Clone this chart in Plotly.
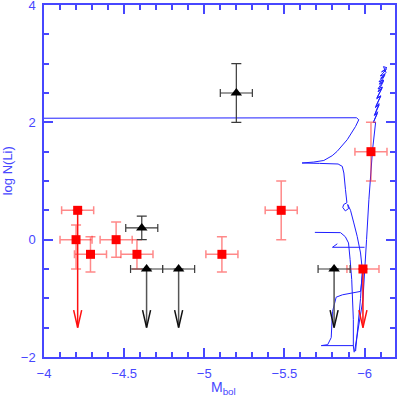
import plotly.graph_objects as go

# Red squares (with errors)
red_x = [-4.21, -4.20, -4.29, -4.45, -4.58, -5.11, -5.48, -5.99, -6.04]
red_y = [0.5, 0.0, -0.25, 0.0, -0.25, -0.25, 0.5, -0.5, 1.5]
red_ex = [0.1, 0.1, 0.1, 0.1, 0.1, 0.1, 0.1, 0.1, 0.1]
red_ey_up = [0.0, 0.25, 0.3, 0.3, 0.25, 0.3, 0.5, 0.0, 0.5]
red_ey_dn = [0.0, 0.5, 0.3, 0.3, 0.25, 0.3, 0.5, 0.0, 0.5]

# Black triangles
blk_x = [-5.20, -4.61, -4.64, -4.84, -5.81]
blk_y = [2.5, 0.2, -0.5, -0.5, -0.5]
blk_ex = [0.1, 0.1, 0.1, 0.1, 0.1]
blk_ey = [0.5, 0.2, 0.0, 0.0, 0.0]

# Upper limits (arrows)
red_lim_x = [-4.21, -5.99]
red_lim_y = [0.5, -0.5]
blk_lim_x = [-4.64, -4.84, -5.81]
blk_lim_y = [-0.5, -0.5, -0.5]
lim_tip = -1.5

# Evolutionary tracks
t1_x = [-4.0, -5.0, -5.7, -5.95, -5.964, -5.944, -5.892, -5.829, -5.798, -5.746, -5.683, -5.61,
        -5.72, -5.835, -5.861, -5.871, -5.881, -5.89, -5.87, -5.864, -5.88, -5.9, -5.895,
        -5.9125, -5.933, -5.954, -5.975, -5.986, -5.975, -5.956, -5.944]
t1_y = [2.07, 2.07, 2.075, 2.078, 2.044, 1.93, 1.704, 1.505, 1.431, 1.35, 1.323, 1.307,
        1.30, 1.29, 1.249, 1.136, 0.852, 0.63, 0.6, 0.55, 0.49, 0.53, 0.6,
        0.5, 0.285, 0.057, -0.227, -0.511, -1.0, -1.5, -1.9]
t2_x = [-5.9375, -5.99, -6.0125, -6.027, -6.05, -6.069,
        -6.055, -6.080, -6.062, -6.092, -6.070, -6.102, -6.077, -6.112, -6.084, -6.120,
        -6.090, -6.128, -6.098, -6.136, -6.106, -6.140, -6.118, -6.134, -6.100, -6.126,
        -6.092, -6.118, -6.084, -6.108, -6.076, -6.100, -6.068, -6.090, -6.062, -6.082, -6.058]
t2_y = [-1.908, -1.02, 0.0, 0.681, 1.533, 2.0,
        2.0, 2.15, 2.12, 2.3, 2.27, 2.45, 2.42, 2.6, 2.57, 2.72,
        2.69, 2.82, 2.79, 2.9, 2.86, 2.93, 2.95, 2.85, 2.75, 2.8,
        2.65, 2.7, 2.52, 2.58, 2.4, 2.45, 2.25, 2.32, 2.12, 2.18, 2.02]
t3_x = [-5.69, -5.85, -5.88, -5.90, -5.91, -5.92, -5.93, -5.93, -5.935]
t3_y = [0.124, 0.12, 0.05, -0.056, -0.34, -0.68, -1.36, -1.81, -1.92]
t4_x = [-5.931, -5.73, -5.77, -5.792, -5.80, -5.823, -5.862, -5.975, -5.99]
t4_y = [-1.806, -1.806, -1.79, -1.67, -1.227, -0.98, -0.94, -0.882, -0.55]
t5_x = [-5.83, -5.80, -6.0]
t5_y = [-0.07, -0.13, -0.13]

AXIS = "#4747ff"
TRACK = "#1f1fff"
FONT = "Liberation Sans, Arial, sans-serif"


def arrows(xs, ys, tip, hw=0.025, hh=0.3):
    sx, sy, vx, vy = [], [], [], []
    for x, y in zip(xs, ys):
        sx += [x, x, None]
        sy += [y, tip, None]
        vx += [x - hw, x, x + hw, None]
        vy += [tip + hh, tip, tip + hh, None]
    return sx, sy, vx, vy


fig = go.Figure()

for tx, ty in [(t1_x, t1_y), (t2_x, t2_y), (t3_x, t3_y), (t4_x, t4_y), (t5_x, t5_y)]:
    fig.add_trace(go.Scatter(x=tx, y=ty, mode="lines", line=dict(color=TRACK, width=1), hoverinfo="skip"))

# arrows
sx, sy, vx, vy = arrows(red_lim_x, red_lim_y, lim_tip)
fig.add_trace(go.Scatter(x=sx, y=sy, mode="lines", line=dict(color="#ff1010", width=1.5)))
fig.add_trace(go.Scatter(x=vx, y=vy, mode="lines", line=dict(color="#ff1010", width=1.5)))
sx, sy, vx, vy = arrows(blk_lim_x, blk_lim_y, lim_tip)
fig.add_trace(go.Scatter(x=sx, y=sy, mode="lines", line=dict(color="#555555", width=1.5)))
fig.add_trace(go.Scatter(x=vx, y=vy, mode="lines", line=dict(color="#111111", width=1.5)))

fig.add_trace(go.Scatter(
    x=red_x, y=red_y, mode="markers",
    marker=dict(symbol="square", size=9, color="#ff0000"),
    error_x=dict(type="data", array=red_ex, color="rgba(255,40,40,0.55)", thickness=1.5, width=4),
    error_y=dict(type="data", array=red_ey_up, arrayminus=red_ey_dn, color="rgba(255,40,40,0.55)",
                 thickness=1.5, width=5),
))
fig.add_trace(go.Scatter(
    x=blk_x, y=blk_y, mode="markers",
    marker=dict(symbol="triangle-up", size=10, color="#000000"),
    error_x=dict(type="data", array=blk_ex, color="#3a3a3a", thickness=1.2, width=4),
    error_y=dict(type="data", array=blk_ey, color="#3a3a3a", thickness=1.2, width=5),
))

axis_common = dict(
    showgrid=False, zeroline=False, showline=True, linecolor=AXIS, linewidth=1.5,
    mirror="allticks", ticks="inside", tickcolor=AXIS, tickwidth=1.5, ticklen=9,
    tickfont=dict(family=FONT, size=13, color=AXIS), automargin=False,
    ticklabeloverflow="allow", ticklabelstandoff=4,
)
fig.update_xaxes(range=[-4, -6.19], dtick=0.5, tick0=-4,
                 minor=dict(dtick=0.1, ticks="inside", ticklen=5, tickcolor=AXIS, tickwidth=1.5),
                 **axis_common)
fig.update_yaxes(range=[-2, 4], dtick=2, tick0=0,
                 minor=dict(dtick=0.5, ticks="inside", ticklen=5, tickcolor=AXIS, tickwidth=1.5),
                 **axis_common)
fig.update_layout(
    width=397, height=396, showlegend=False,
    margin=dict(l=44, r=2, t=5, b=39, autoexpand=False),
    plot_bgcolor="white", paper_bgcolor="white",
    annotations=[
        dict(text="M<sub>bol</sub>", xref="paper", yref="paper", x=0.51, y=-0.058,
             xanchor="center", yanchor="top", showarrow=False,
             font=dict(family=FONT, size=14, color=AXIS)),
        dict(text="log N(Li)", xref="paper", yref="paper", x=-0.103, y=0.53,
             xanchor="center", yanchor="middle", showarrow=False, textangle=-90,
             font=dict(family=FONT, size=13, color=AXIS)),
    ],
)
fig.write_html("out.html", config={"displayModeBar": False},
               post_script="document.body.style.margin='0';document.body.style.overflow='hidden';")
